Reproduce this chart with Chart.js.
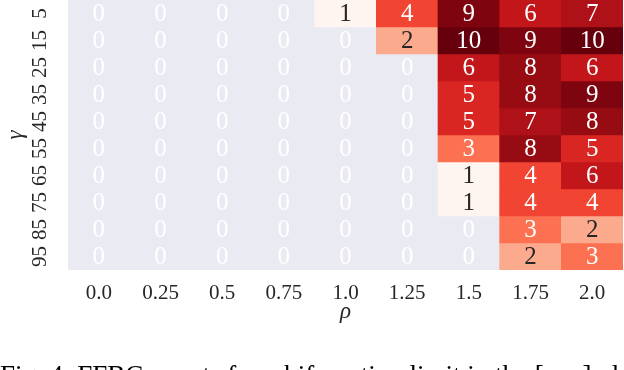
<!DOCTYPE html>
<html>
<head>
<meta charset="utf-8">
<script src="https://cdn.jsdelivr.net/npm/chart.js@4"></script>
<style>
  html, body { margin: 0; padding: 0; background: #fff; }
  #wrap { width: 624px; height: 370px; position: relative; }
</style>
</head>
<body>
<div id="wrap"><canvas id="heat"></canvas></div>
<script>
// heatmap of counts, rho across, gamma down
const rhoLabels = ['0.0', '0.25', '0.5', '0.75', '1.0', '1.25', '1.5', '1.75', '2.0'];
const gammaLabels = ['5', '15', '25', '35', '45', '55', '65', '75', '85', '95'];
const counts = [
  [0, 0, 0, 0, 1, 4, 9, 6, 7],
  [0, 0, 0, 0, 0, 2, 10, 9, 10],
  [0, 0, 0, 0, 0, 0, 6, 8, 6],
  [0, 0, 0, 0, 0, 0, 5, 8, 9],
  [0, 0, 0, 0, 0, 0, 5, 7, 8],
  [0, 0, 0, 0, 0, 0, 3, 8, 5],
  [0, 0, 0, 0, 0, 0, 1, 4, 6],
  [0, 0, 0, 0, 0, 0, 1, 4, 4],
  [0, 0, 0, 0, 0, 0, 0, 3, 2],
  [0, 0, 0, 0, 0, 0, 0, 2, 3]
];
const caption = 'Fig. 4: FFBC counts for a bifurcation limit in the [\u03C1, \u03B3] plane';

// matplotlib "Reds", log scaled between 1 and 10
const REDS = [[255,245,240],[254,224,210],[252,187,161],[252,146,114],[251,106,74],
              [239,59,44],[203,24,29],[165,15,21],[103,0,13]];
function redsRgb(v) {
  const t = Math.min(1, Math.max(0, Math.log10(v))) * (REDS.length - 1);
  const i = Math.min(REDS.length - 2, Math.floor(t));
  const f = t - i;
  return REDS[i].map((c, k) => Math.round(c + (REDS[i + 1][k] - c) * f));
}
function cellColor(v) {
  if (v <= 0) return 'rgba(0,0,0,0)';
  const [r, g, b] = redsRgb(v);
  return `rgb(${r},${g},${b})`;
}
function textColor(v) {
  if (v <= 0) return '#ffffff';
  const lin = redsRgb(v).map(c => {
    c /= 255;
    return c <= 0.03928 ? c / 12.92 : Math.pow((c + 0.055) / 1.055, 2.4);
  });
  const lum = 0.2126 * lin[0] + 0.7152 * lin[1] + 0.0722 * lin[2];
  return lum > 0.408 ? '#262626' : '#ffffff';
}

const SERIF = '"Liberation Serif", "DejaVu Serif", serif';

const datasets = gammaLabels.map((g, i) => ({
  label: g,
  data: rhoLabels.map(() => [i, i + 1]),
  backgroundColor: counts[i].map(cellColor),
  borderWidth: 0,
  borderSkipped: false,
  barPercentage: 1,
  categoryPercentage: 1,
  grouped: false
}));

const heatPlugin = {
  id: 'heatExtras',
  beforeDatasetsDraw(chart) {
    const { ctx, chartArea: a } = chart;
    ctx.save();
    ctx.fillStyle = '#eaeaf2';
    ctx.fillRect(a.left, a.top, a.right - a.left, a.bottom - a.top);
    ctx.restore();
  },
  afterDatasetsDraw(chart) {
    const ctx = chart.ctx;
    ctx.save();
    ctx.font = '25px ' + SERIF;
    ctx.textAlign = 'center';
    ctx.textBaseline = 'middle';
    chart.data.datasets.forEach((ds, i) => {
      chart.getDatasetMeta(i).data.forEach((bar, j) => {
        const p = bar.getProps(['x', 'y', 'base'], true);
        const v = counts[i][j];
        ctx.fillStyle = textColor(v);
        ctx.fillText(String(v), p.x, (p.y + p.base) / 2 + 1);
      });
    });
    ctx.restore();
  },
  afterDraw(chart) {
    const ctx = chart.ctx;
    ctx.save();
    ctx.font = '27px ' + SERIF;
    ctx.fillStyle = '#000';
    ctx.textAlign = 'left';
    ctx.textBaseline = 'alphabetic';
    ctx.fillText(caption, 0, 384);
    ctx.restore();
  }
};

new Chart(document.getElementById('heat'), {
  type: 'bar',
  data: { labels: rhoLabels, datasets },
  options: {
    responsive: true,
    maintainAspectRatio: false,
    animation: false,
    layout: { padding: { top: 0, right: 1, bottom: 40, left: 0 } },
    plugins: {
      legend: { display: false },
      tooltip: { enabled: false }
    },
    scales: {
      x: {
        type: 'category',
        offset: true,
        grid: { display: false, drawTicks: false },
        border: { display: false },
        ticks: { color: '#262626', font: { family: SERIF, size: 21 }, padding: 11, maxRotation: 0 },
        title: {
          display: true, text: '\u03C1', color: '#262626',
          font: { family: SERIF, size: 23, style: 'italic' },
          padding: { top: 0, bottom: 4 }
        },
        afterFit(s) { s.height = 60; s.paddingLeft = 0; s.paddingRight = 0; }
      },
      y: {
        type: 'linear',
        min: 0,
        max: gammaLabels.length,
        reverse: true,
        grid: { display: false, drawTicks: false },
        border: { display: false },
        afterBuildTicks(s) { s.ticks = gammaLabels.map((g, i) => ({ value: i + 0.5 })); },
        ticks: {
          color: '#262626',
          font: { family: SERIF, size: 21 },
          minRotation: 90, maxRotation: 90,
          crossAlign: 'center',
          padding: 17,
          callback: (v) => gammaLabels[Math.floor(v)]
        },
        title: {
          display: true, text: '\u03B3', color: '#262626',
          font: { family: SERIF, size: 23, style: 'italic' },
          padding: { top: 2, bottom: 0 }
        },
        afterFit(s) { s.width = 68; s.paddingTop = 0; s.paddingBottom = 0; }
      }
    }
  },
  plugins: [heatPlugin]
});
</script>
</body>
</html>
